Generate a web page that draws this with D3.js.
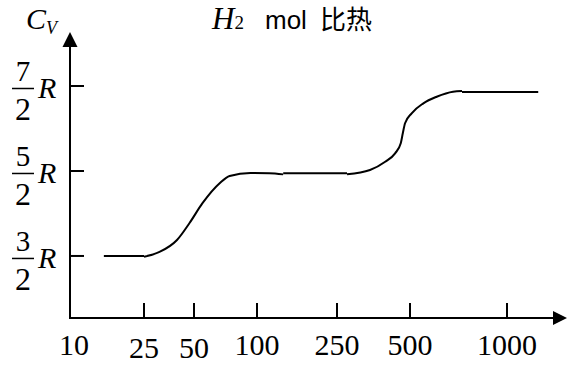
<!DOCTYPE html>
<html>
<head>
<meta charset="utf-8">
<script src="https://cdn.jsdelivr.net/npm/d3@7/dist/d3.min.js"></script>
<style>
  html, body { margin: 0; padding: 0; background: #fff; }
  svg { display: block; }
</style>
</head>
<body>
<svg id="chart" width="568" height="367"></svg>
<script>
// ---- data ----
const xTickValues = [10, 25, 50, 100, 250, 500, 1000];
const xTickLabels = ["10", "25", "50", "100", "250", "500", "1000"];
const yTickValues = [1.5, 2.5, 3.5];
const yTickNum = ["3", "5", "7"];
const yTickDen = ["2", "2", "2"];
// temperature (K), Cv in units of R
const segFlatLow = [[15, 1.5], [25, 1.5]];
const segRise1 = [[25, 1.49], [31, 1.547], [39.5, 1.688], [47, 1.888], [55, 2.124], [66.5, 2.359], [74, 2.441], [93, 2.476], [115, 2.474], [135, 2.46]];
const segFlatMid = [[135, 2.473], [275, 2.473]];
const segRise2 = [[275, 2.462], [342, 2.512], [395, 2.609], [434, 2.708], [458, 2.826], [467, 2.944], [477, 3.061], [506, 3.179], [550, 3.296], [605, 3.374], [680, 3.433], [725, 3.44]];
const segFlatHigh = [[725, 3.43], [1250, 3.43]];
const segments = [segFlatLow, segRise1, segFlatMid, segRise2, segFlatHigh];

// ---- scales ----
const svg = d3.select("#chart");
const x = d3.scaleLog().domain(xTickValues).range([72, 144, 194, 257, 337, 410, 507]);
const y = d3.scaleLinear().domain([0.77, 3.5]).range([318, 86]);
const x0 = 70, y0 = 318;
const serif = "'Liberation Serif', 'Times New Roman', serif";

// axes lines
svg.append("line").attr("x1", x0).attr("y1", y0).attr("x2", 556).attr("y2", y0)
  .attr("stroke", "#000").attr("stroke-width", 2);
svg.append("line").attr("x1", x0).attr("y1", y0 + 1).attr("x2", x0).attr("y2", 44)
  .attr("stroke", "#000").attr("stroke-width", 2);
// arrows
svg.append("path").attr("d", `M${x0 - 7.5},47 L${x0},32 L${x0 + 7.5},47 Z`).attr("fill", "#000");
svg.append("path").attr("d", `M553,${y0 - 7} L567,${y0} L553,${y0 + 7} Z`).attr("fill", "#000");

// x ticks
const xLabelDy = [0, 3, 3, 0, 0, 0, 0];
xTickValues.forEach((v, i) => {
  if (i > 0) {
    svg.append("line").attr("x1", x(v)).attr("x2", x(v)).attr("y1", y0).attr("y2", y0 - 15)
      .attr("stroke", "#000").attr("stroke-width", 2);
  }
  svg.append("text").attr("x", x(v) + (i === 0 ? 2 : 0)).attr("y", 355 + xLabelDy[i])
    .attr("text-anchor", "middle")
    .attr("font-family", serif)
    .attr("font-size", 30).text(xTickLabels[i]);
});

// y ticks + fraction labels
yTickValues.forEach((v, i) => {
  const yy = y(v);
  svg.append("line").attr("x1", x0).attr("x2", x0 + 14).attr("y1", yy).attr("y2", yy)
    .attr("stroke", "#000").attr("stroke-width", 2);
  const g = svg.append("g").attr("font-family", serif);
  g.append("text").attr("x", 23).attr("y", yy - 5).attr("text-anchor", "middle")
    .attr("font-size", 29).text(yTickNum[i]);
  g.append("line").attr("x1", 12).attr("x2", 34).attr("y1", yy + 2.5).attr("y2", yy + 2.5)
    .attr("stroke", "#000").attr("stroke-width", 1.5);
  g.append("text").attr("x", 23).attr("y", yy + 34).attr("text-anchor", "middle")
    .attr("font-size", 32).text(yTickDen[i]);
  g.append("text").attr("x", 38).attr("y", yy + 12).attr("font-style", "italic")
    .attr("font-size", 30).text("R");
});

// C_V label
const cv = svg.append("text").attr("x", 26).attr("y", 29)
  .attr("font-family", serif).attr("font-style", "italic");
cv.append("tspan").attr("font-size", 30).text("C");
cv.append("tspan").attr("font-size", 18).attr("dy", 5).text("V");

// title
const t = svg.append("text").attr("x", 212).attr("y", 29);
t.append("tspan").attr("font-family", serif).attr("font-style", "italic")
  .attr("font-size", 31).text("H");
t.append("tspan").attr("font-family", serif).attr("font-size", 19).attr("dy", 0).text("2");
t.append("tspan").attr("font-family", "'Liberation Sans', Arial, sans-serif").attr("font-size", 26)
  .attr("x", 265).attr("dy", 0).text("mol");
t.append("tspan").attr("font-family", "'Noto Sans CJK SC', sans-serif").attr("font-size", 26)
  .attr("x", 320).text("比热");

// curve
const line = d3.line().x(d => x(d[0])).y(d => y(d[1])).curve(d3.curveMonotoneX);
svg.selectAll("path.seg").data(segments).join("path").attr("class", "seg")
  .attr("d", line).attr("fill", "none").attr("stroke", "#000").attr("stroke-width", 2);
</script>
</body>
</html>
